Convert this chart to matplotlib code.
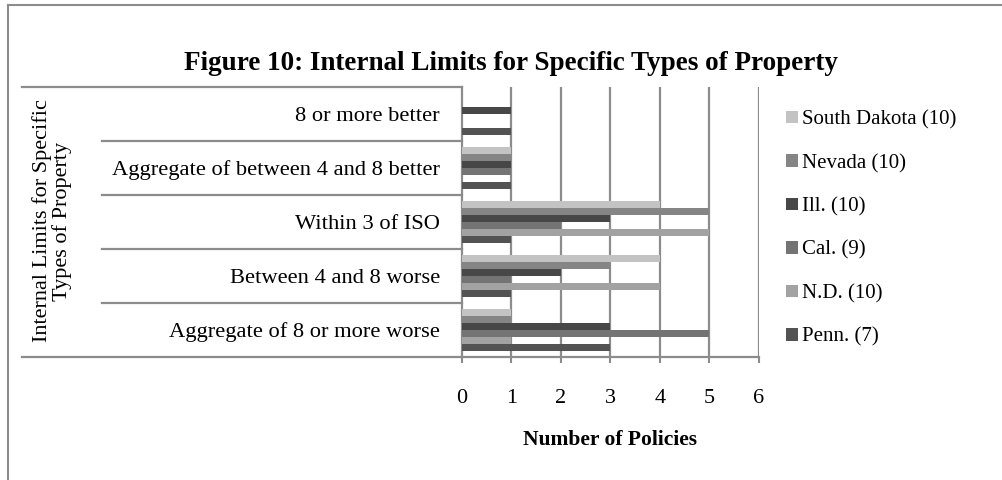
import matplotlib
matplotlib.use("Agg")
import matplotlib.pyplot as plt
import matplotlib.transforms as mtransforms
from matplotlib.patches import Patch
import numpy as np

plt.rcParams['font.family'] = ['Liberation Serif', 'DejaVu Serif']

categories = ["Aggregate of 8 or more worse", "Between 4 and 8 worse", "Within 3 of ISO",
              "Aggregate of between 4 and 8 better", "8 or more better"]
series_names = ["Penn. (7)", "N.D. (10)", "Cal. (9)", "Ill. (10)", "Nevada (10)", "South Dakota (10)"]
penn = [3, 1, 1, 1, 1]
nd = [1, 4, 5, 0, 0]
cal = [5, 1, 2, 1, 0]
ill = [3, 2, 3, 1, 1]
nevada = [1, 3, 5, 1, 0]
south_dakota = [1, 4, 4, 1, 0]
series_values = [penn, nd, cal, ill, nevada, south_dakota]
colors = ["#535353", "#a2a2a2", "#747474", "#474747", "#858585", "#c3c3c3"]
x_ticks = [0, 1, 2, 3, 4, 5, 6]

W, H = 1003, 480
fig = plt.figure(figsize=(W / 100, H / 100), dpi=100)
ax_left, ax_right, ax_top, ax_bottom = 462, 759, 87, 357
ax = fig.add_axes([ax_left / W, 1 - ax_bottom / H, (ax_right - ax_left) / W, (ax_bottom - ax_top) / H])

n = len(series_values)
bh = 0.78 / n
y = np.arange(len(categories))
for i, (vals, c) in enumerate(zip(series_values, colors)):
    ax.barh(y - 0.39 + (i + 0.5) * bh, vals, height=bh, color=c, zorder=3, linewidth=0)

grid_c = "#8c8c8c"
ax.set_xlim(0, 6)
ax.set_ylim(-0.5, len(categories) - 0.5)
ax.set_xticks(x_ticks)
ax.set_xticklabels([str(t) for t in x_ticks], fontsize=16)
for t in x_ticks[1:]:
    ax.axvline(t, color=grid_c, lw=1.6, zorder=1)
ax.set_yticks(y)
ax.set_yticklabels(categories, fontsize=16.2)
ax.tick_params(axis='y', length=0, pad=16)
ax.tick_params(axis='x', length=4, width=1.5, color=grid_c, direction='out', pad=19)
for s in ['top', 'right']:
    ax.spines[s].set_visible(False)
for s in ['left', 'bottom']:
    ax.spines[s].set_color(grid_c)
    ax.spines[s].set_linewidth(1.6)

# multi-level category axis lines
tr = mtransforms.blended_transform_factory(fig.transFigure, ax.transData)
for yb in [-0.5, len(categories) - 0.5]:
    ax.plot([22 / W, ax_left / W], [yb, yb], transform=tr, color=grid_c, lw=1.6, clip_on=False)
for yb in np.arange(0.5, len(categories) - 0.5, 1):
    ax.plot([102 / W, ax_left / W], [yb, yb], transform=tr, color=grid_c, lw=1.6, clip_on=False)

fig.text(52 / W, 1 - 221 / H, "Internal Limits for Specific\nTypes of Property", rotation=90,
         ha='center', va='center', fontsize=16, linespacing=1.0)

ax.set_xlabel("Number of Policies", fontsize=15.5, fontweight='bold', labelpad=16)
fig.text(511 / W, 1 - 63 / H, "Figure 10: Internal Limits for Specific Types of Property",
         ha='center', va='center', fontsize=19.5, fontweight='bold')

handles = [Patch(facecolor=c, edgecolor='none') for c in colors][::-1]
labels = series_names[::-1]
fig.legend(handles, labels, loc='upper left', bbox_to_anchor=(778 / W, 1 - 102 / H),
           frameon=False, fontsize=15, handlelength=0.55, handleheight=0.55,
           handletextpad=0.2, labelspacing=1.16, borderaxespad=0)

# outer chart border
fig.add_artist(plt.Line2D([8 / W, 8 / W], [0, 1 - 5 / H], color=grid_c, lw=1.5))
fig.add_artist(plt.Line2D([8 / W, 1], [1 - 5 / H, 1 - 5 / H], color=grid_c, lw=1.5))

fig.savefig("out.png", dpi=100)
